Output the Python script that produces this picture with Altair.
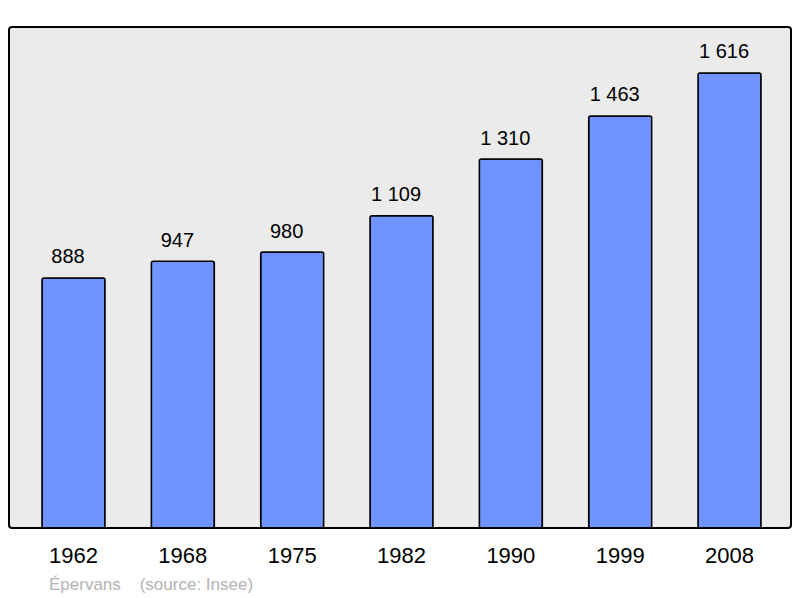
import altair as alt
import pandas as pd

years = ["1962", "1968", "1975", "1982", "1990", "1999", "2008"]
population = [888, 947, 980, 1109, 1310, 1463, 1616]
labels = [f"{v:,}".replace(",", " ") for v in population]

df = pd.DataFrame({"year": years, "pop": population, "label": labels})

x = alt.X("year:N", sort=years, title=None,
          scale=alt.Scale(paddingInner=0.4238, paddingOuter=0.288, align=0.524),
          axis=alt.Axis(domain=False, ticks=False, grid=False, labelAngle=0,
                        labelFontSize=22, labelFont="Liberation Sans",
                        labelColor="#000000", labelPadding=17))
y = alt.Y("pop:Q", title=None, scale=alt.Scale(domain=[0, 1779], nice=False),
          axis=None)

bars = alt.Chart(df).mark_bar(color="#7094ff", stroke="#000000", strokeWidth=1.5,
                              cornerRadius=2).encode(x=x, y=y)
text = alt.Chart(df).mark_text(baseline="alphabetic", dy=-14.5, dx=-5.5, fontSize=20,
                               font="Liberation Sans", color="#000000").encode(
    x=alt.X("year:N", sort=years), y="pop:Q", text="label:N")

chart = (bars + text).properties(
    width=782, height=501,
    background="#ffffff",
    title=alt.TitleParams(text="Épervans\u00a0\u00a0\u00a0\u00a0(source: Insee)",
                          orient="bottom", anchor="start", dx=40, offset=11,
                          fontSize=17, font="Liberation Sans", fontWeight="normal",
                          color="#b3b3b3"),
    autosize=alt.AutoSizeParams(type="none"),
    padding={"left": 1, "top": 19, "right": 1, "bottom": 68},
).configure_view(fill="#ebebeb", stroke="#000000", strokeWidth=2, cornerRadius=3)

chart.save("out.html", embed_options={"renderer": "svg", "actions": False})
